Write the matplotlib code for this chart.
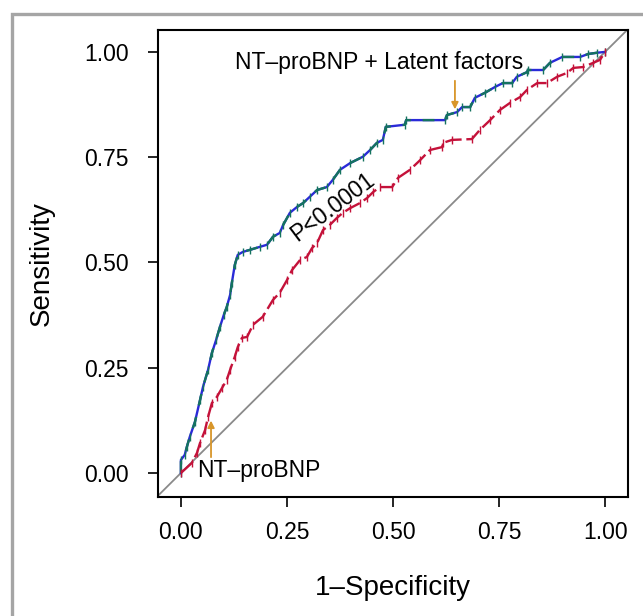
import numpy as np
import matplotlib
matplotlib.use('Agg')
import matplotlib.pyplot as plt
from matplotlib.patches import Rectangle

plt.rcParams['font.family'] = ['Liberation Sans', 'DejaVu Sans']

# ROC curve of NT-proBNP + latent factors (1-specificity, sensitivity)
fpr_latent = [0.0, 0.0, 0.009, 0.014, 0.021, 0.033, 0.045, 0.052, 0.064, 0.073, 0.083, 0.092,
              0.101, 0.108, 0.116, 0.120, 0.127, 0.134, 0.146, 0.163, 0.186, 0.203, 0.217,
              0.233, 0.241, 0.257, 0.274, 0.288, 0.304, 0.321, 0.344, 0.358, 0.375, 0.399,
              0.429, 0.446, 0.462, 0.476, 0.483, 0.528, 0.531, 0.623, 0.627, 0.651, 0.663,
              0.682, 0.693, 0.717, 0.741, 0.759, 0.781, 0.792, 0.816, 0.818, 0.854, 0.870,
              0.899, 0.941, 0.960, 0.981, 1.0]
tpr_latent = [0.0, 0.031, 0.043, 0.062, 0.086, 0.121, 0.173, 0.204, 0.245, 0.285, 0.316, 0.347,
              0.375, 0.394, 0.423, 0.451, 0.494, 0.518, 0.525, 0.530, 0.537, 0.542, 0.561,
              0.570, 0.589, 0.618, 0.632, 0.641, 0.656, 0.672, 0.679, 0.696, 0.720, 0.736,
              0.751, 0.767, 0.784, 0.791, 0.822, 0.827, 0.838, 0.838, 0.850, 0.857, 0.869,
              0.869, 0.891, 0.903, 0.917, 0.926, 0.926, 0.941, 0.952, 0.957, 0.957, 0.974,
              0.988, 0.988, 0.995, 0.998, 1.0]

# ROC curve of NT-proBNP alone
fpr_bnp = [0.0, 0.026, 0.038, 0.045, 0.057, 0.064, 0.073, 0.085, 0.097, 0.108, 0.116, 0.127,
           0.134, 0.144, 0.156, 0.170, 0.193, 0.217, 0.233, 0.250, 0.262, 0.281, 0.297, 0.309,
           0.321, 0.335, 0.351, 0.368, 0.382, 0.399, 0.422, 0.439, 0.453, 0.469, 0.498, 0.512,
           0.540, 0.564, 0.587, 0.616, 0.618, 0.639, 0.686, 0.705, 0.729, 0.752, 0.776, 0.800,
           0.816, 0.840, 0.863, 0.887, 0.910, 0.925, 0.948, 0.972, 0.988, 1.0]
tpr_bnp = [0.0, 0.024, 0.048, 0.071, 0.102, 0.133, 0.166, 0.181, 0.202, 0.221, 0.245, 0.276,
           0.299, 0.321, 0.323, 0.352, 0.371, 0.411, 0.428, 0.458, 0.482, 0.506, 0.513, 0.534,
           0.546, 0.577, 0.589, 0.606, 0.618, 0.629, 0.641, 0.653, 0.667, 0.679, 0.679, 0.701,
           0.720, 0.743, 0.767, 0.774, 0.784, 0.791, 0.793, 0.815, 0.838, 0.862, 0.879, 0.893,
           0.910, 0.926, 0.926, 0.941, 0.950, 0.962, 0.964, 0.974, 0.981, 1.0]

ticks = [0.0, 0.25, 0.5, 0.75, 1.0]

fig = plt.figure(figsize=(6.43, 6.16), dpi=100)
# grey outer frame (only left and top are visible in the crop)
fig.patches.append(Rectangle((11.5 / 643, -0.2), 1.2, 1.2 - 13.5 / 616,
                             transform=fig.transFigure, fill=False,
                             edgecolor='#a5a5a5', linewidth=2.4))
ax = fig.add_axes([158 / 643, 1 - 497 / 616, 470 / 643, 467 / 616])

ax.axline((0, 0), (1, 1), color='#8a8a8a', lw=1.3, zorder=1)

# upper curve: blue underneath, green dashed on top
ax.plot(fpr_latent, tpr_latent, color='#2a2ad8', lw=1.7, zorder=2)
ax.plot(fpr_latent, tpr_latent, color='#15735f', lw=1.7, ls=(0, (5, 5)),
        marker='|', ms=6, mew=1.0, zorder=3)
# lower curve, red with small gaps
ax.plot(fpr_bnp, tpr_bnp, color='#c4123a', lw=1.7, ls=(0, (7, 2)),
        marker='|', ms=6, mew=1.0, zorder=3)

ax.text(0.127, 0.974, 'NT–proBNP + Latent factors', fontsize=16.5, va='center', ha='left')
ax.text(0.038, 0.007, 'NT–proBNP', fontsize=16.5, va='center', ha='left')
ax.text(0.358, 0.632, 'P<0.0001', fontsize=16.5, rotation=37, ha='center', va='center',
        rotation_mode='anchor')

arrow = dict(arrowstyle='-|>', color='#d8962a', lw=1.3, mutation_scale=10)
ax.annotate('', xy=(0.646, 0.857), xytext=(0.646, 0.938), arrowprops=arrow)
ax.annotate('', xy=(0.071, 0.131), xytext=(0.071, 0.031), arrowprops=arrow)

ax.set_xlim(-0.054, 1.054)
ax.set_ylim(-0.057, 1.052)
ax.set_xticks(ticks)
ax.set_yticks(ticks)
ax.set_xticklabels(['%.2f' % t for t in ticks])
ax.set_yticklabels(['%.2f' % t for t in ticks])
ax.tick_params(direction='out', length=7, width=1.2, labelsize=16.5, colors='black')
ax.tick_params(axis='x', pad=10)
ax.tick_params(axis='y', pad=14)
for s in ax.spines.values():
    s.set_linewidth(1.5)

ax.set_xlabel('1–Specificity', fontsize=20)
ax.set_ylabel('Sensitivity', fontsize=20)
ax.xaxis.set_label_coords(0.5, -0.167)
ax.yaxis.set_label_coords(-0.219, 0.5)

fig.savefig('out.png', dpi=100)
